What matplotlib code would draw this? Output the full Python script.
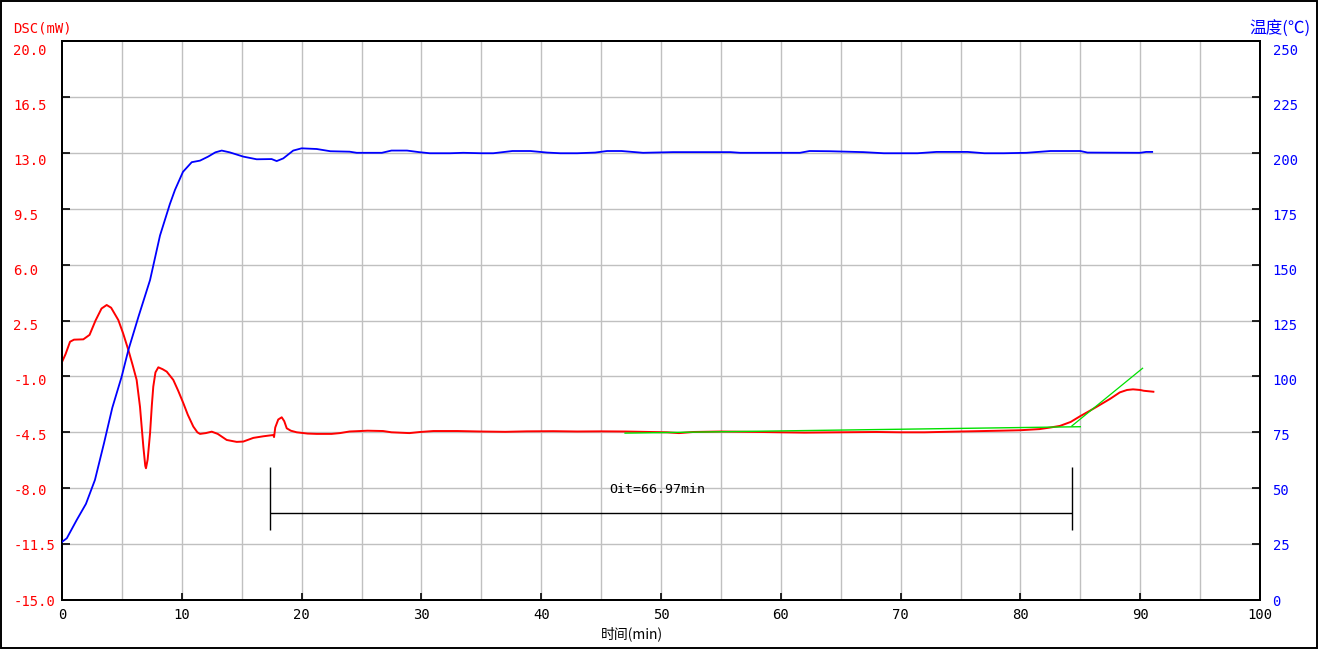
import matplotlib
matplotlib.use("Agg")
import matplotlib.pyplot as plt
from matplotlib.patches import Rectangle
from matplotlib.transforms import ScaledTranslation
import numpy as np

# ---------------- data ----------------
dsc_time = [0.0, 0.3, 0.67, 1.0, 1.78, 2.3, 2.8, 3.3, 3.73, 4.1, 4.7, 5.1, 5.54, 5.9, 6.23,
            6.51, 6.79, 6.95, 7.01, 7.15, 7.35, 7.5, 7.62, 7.8, 8.04, 8.4, 8.74, 9.29, 9.7,
            10.13, 10.5, 10.96, 11.3, 11.52, 12.0, 12.5, 13.0, 13.75, 14.58, 15.13, 15.97,
            16.8, 17.64, 17.7, 17.8, 18.05, 18.34, 18.55, 18.76, 19.1, 19.59, 20.5, 21.26,
            22.5, 23.2, 24.0, 25.5, 26.8, 27.5, 29.0, 29.9, 31.0, 33.0, 34.9, 37.0, 38.8,
            41.0, 43.0, 45.0, 47.0, 50.5, 51.5, 52.7, 55.0, 58.3, 60.0, 62.0, 65.0, 68.0,
            70.0, 72.0, 75.0, 78.3, 80.0, 81.6, 82.5, 83.3, 84.2, 84.97, 85.8, 86.6, 87.5,
            88.3, 88.9, 89.4, 90.0, 90.3, 91.1]
dsc_value = [-0.1, 0.4, 1.17, 1.3, 1.32, 1.6, 2.5, 3.25, 3.47, 3.3, 2.53, 1.7, 0.65, -0.3,
             -1.22, -2.9, -5.4, -6.6, -6.75, -6.2, -4.56, -2.8, -1.64, -0.75, -0.43, -0.55,
             -0.7, -1.22, -1.9, -2.68, -3.4, -4.14, -4.5, -4.6, -4.55, -4.46, -4.6, -4.98,
             -5.1, -5.08, -4.85, -4.75, -4.67, -4.8, -4.2, -3.7, -3.56, -3.8, -4.25, -4.4,
             -4.5, -4.58, -4.6, -4.6, -4.55, -4.45, -4.4, -4.42, -4.5, -4.55, -4.48, -4.42,
             -4.42, -4.45, -4.47, -4.44, -4.43, -4.45, -4.44, -4.45, -4.5, -4.55, -4.48,
             -4.45, -4.48, -4.5, -4.52, -4.5, -4.48, -4.5, -4.5, -4.45, -4.4, -4.37, -4.3,
             -4.2, -4.1, -3.85, -3.5, -3.15, -2.8, -2.4, -2.0, -1.85, -1.81, -1.85, -1.9,
             -1.96]

temp_time = [0.0, 0.4, 1.23, 2.0, 2.75, 3.5, 4.2, 4.98, 5.54, 6.4, 7.35, 8.18, 9.0, 9.43,
             10.1, 10.83, 11.52, 12.2, 12.8, 13.33, 14.0, 15.13, 16.25, 17.5, 17.92, 18.47,
             19.3, 20.0, 21.26, 22.4, 24.0, 24.6, 26.7, 27.5, 28.8, 29.8, 30.7, 32.4, 33.5,
             35.0, 36.0, 37.6, 39.1, 40.5, 41.6, 43.0, 44.5, 45.5, 46.7, 48.5, 51.0, 55.8,
             56.6, 61.6, 62.4, 64.1, 66.9, 68.6, 71.4, 73.0, 75.6, 77.0, 78.6, 80.5, 82.5,
             85.0, 85.6, 90.0, 90.5, 91.0]
temp_value = [26.0, 27.6, 35.8, 43.0, 53.7, 70.0, 86.0, 99.9, 111.8, 127.0, 143.1, 163.0,
              177.0, 183.4, 191.5, 195.8, 196.5, 198.3, 200.2, 201.0, 200.2, 198.3, 197.1,
              197.2, 196.3, 197.5, 201.0, 202.0, 201.7, 200.7, 200.5, 200.0, 200.0, 201.0,
              201.0, 200.3, 199.8, 199.8, 200.0, 199.8, 199.8, 200.8, 200.8, 200.1, 199.8,
              199.8, 200.1, 200.8, 200.8, 200.0, 200.3, 200.3, 200.0, 200.0, 200.8, 200.7,
              200.3, 199.8, 199.8, 200.4, 200.4, 199.8, 199.8, 200.0, 200.8, 200.8, 200.1,
              200.0, 200.4, 200.4]

baseline_time = [47.0, 85.0]
baseline_value = [-4.55, -4.15]
tangent_time = [84.3, 90.2]
tangent_value = [-4.1, -0.49]

oit_start = 17.36
oit_end = 84.33
oit_label = "Oit=66.97min"

dsc_ticks = [-15.0, -11.5, -8.0, -4.5, -1.0, 2.5, 6.0, 9.5, 13.0, 16.5, 20.0]
dsc_ticklabels = ["-15.0", "-11.5", "-8.0", "-4.5", "-1.0", "2.5", "6.0", "9.5", "13.0", "16.5", "20.0"]
temp_ticks = [0, 25, 50, 75, 100, 125, 150, 175, 200, 225, 250]
time_ticks = [0, 10, 20, 30, 40, 50, 60, 70, 80, 90, 100]

# ---------------- figure ----------------
W, H = 1320, 650
fig = plt.figure(figsize=(W / 100, H / 100), dpi=100)
fig.patch.set_facecolor("white")
ax = fig.add_axes([62 / W, 1 - 600 / H, (1260 - 62) / W, (600 - 41) / H])
ax2 = ax.twinx()

mono = "DejaVu Sans Mono"
cjk = ["Noto Sans CJK SC", "DejaVu Sans"]

ax.set_xlim(0, 100)
ax.set_ylim(-15, 20)
ax2.set_ylim(0, 250)

# grid
for x in np.arange(5, 100, 5):
    ax.axvline(x, color="#c0c0c0", lw=1.0, zorder=0)
for y in dsc_ticks[1:-1]:
    ax.axhline(y, color="#c0c0c0", lw=1.0, zorder=0)

# curves
ax.plot(dsc_time, dsc_value, color="#ff0000", lw=1.4, zorder=3)
ax.plot(baseline_time, baseline_value, color="#00e000", lw=1.0, zorder=4)
ax.plot(tangent_time, tangent_value, color="#00e000", lw=0.9, zorder=4)
ax2.plot(temp_time, temp_value, color="#0000ff", lw=1.3, zorder=3)

# OIT annotation
ax.vlines([oit_start, oit_end], -10.61, -6.67, color="black", lw=1.0, zorder=5)
ax.hlines(-9.55, oit_start, oit_end, color="black", lw=1.0, zorder=5)
ax.text(49.7, -8.1, oit_label, ha="center", va="center", fontsize=9.5,
        family=mono, color="black", zorder=6)

# ticks
ax.set_xticks(time_ticks)
ax.set_xticklabels([str(t) for t in time_ticks], family=mono, fontsize=10, color="black")
ax.set_yticks(dsc_ticks)
ax.set_yticklabels(dsc_ticklabels, family=mono, fontsize=10, color="#ff0000", ha="left")
ax2.set_yticks(temp_ticks)
ax2.set_yticklabels([str(t) for t in temp_ticks], family=mono, fontsize=10, color="#0000ff")

ax.tick_params(axis="x", direction="in", length=5, width=1.2, pad=6)
ax.tick_params(axis="y", direction="in", length=6, width=1.2, pad=35)
ax2.tick_params(axis="y", direction="in", length=6, width=1.2, pad=9)

# labels in the reference drift slightly below their ticks towards the top
n = len(dsc_ticks)
for i, lab in enumerate(ax.get_yticklabels()):
    off = 8.5 * i / (n - 1)
    lab.set_transform(lab.get_transform() + ScaledTranslation(0, -off / 100, fig.dpi_scale_trans))
for i, lab in enumerate(ax2.get_yticklabels()):
    off = 8.5 * i / (n - 1)
    lab.set_transform(lab.get_transform() + ScaledTranslation(0, -off / 100, fig.dpi_scale_trans))

for a in (ax, ax2):
    for s in a.spines.values():
        s.set_linewidth(1.4)
        s.set_color("black")

# axis titles
fig.text(13 / W, 1 - 29 / H, "DSC(mW)", family=mono, fontsize=10, color="#ff0000",
         ha="left", va="center")
fig.text(1310 / W, 1 - 29 / H, "温度(℃)", family=cjk, fontsize=12, color="#0000ff",
         ha="right", va="center")
fig.text(632 / W, 1 - 634 / H, "时间(min)", family=cjk, fontsize=10, color="black",
         ha="center", va="center")

# outer frame
fig.patches.append(Rectangle((0.5 / W, 2.0 / H), 1316 / W, 647.5 / H, transform=fig.transFigure,
                             fill=False, edgecolor="black", lw=1.4))

fig.savefig("out.png", dpi=100, facecolor="white")
